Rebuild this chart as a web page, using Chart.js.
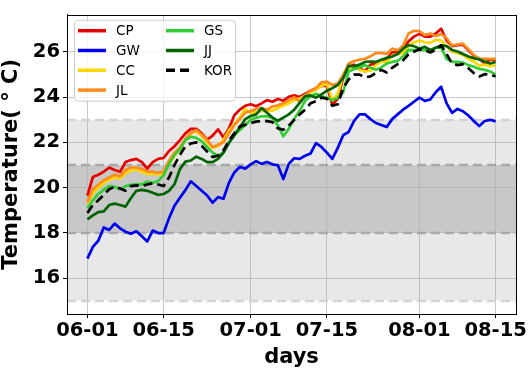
<!DOCTYPE html>
<html>
<head>
<meta charset="utf-8">
<script src="https://cdn.jsdelivr.net/npm/chart.js@4.4.1/dist/chart.umd.min.js"></script>
<style>
  html, body { margin: 0; padding: 0; background: #fff; }
  #wrap { width: 529px; height: 372px; }
</style>
</head>
<body>
<div id="wrap"><canvas id="chart" width="529" height="372"></canvas></div>
<script>
// x = day index from 06-01
const tickDays = [0, 14, 30, 44, 61, 75];
const tickLabels = ['06-01', '06-15', '07-01', '07-15', '08-01', '08-15'];
const yTicks = [16, 18, 20, 22, 24, 26];
const outerBand = [15, 23];
const innerBand = [18, 21];

const seriesNames = ['CP', 'GW', 'CC', 'JL', 'GS', 'JJ', 'KOR'];

const CP = [19.65, 20.47, 20.57, 20.70, 20.89, 20.78, 20.70, 21.13, 21.22, 21.27,
            21.13, 20.84, 21.13, 21.27, 21.31, 21.62, 21.83, 22.10, 22.40, 22.60,
            22.60, 22.40, 22.12, 22.30, 22.58, 22.22, 22.62, 23.20, 23.45, 23.62,
            23.69, 23.60, 23.73, 23.87, 23.80, 23.92, 23.84, 24.02, 24.08, 24.01,
            24.15, 24.29, 24.40, 24.50, 24.50, 23.66, 23.94, 24.85, 25.35, 25.44,
            25.28, 25.14, 25.44, 25.49, 25.63, 25.70, 25.98, 26.00, 26.12, 26.47,
            26.68, 26.80, 26.68, 26.68, 26.82, 27.03, 26.51, 26.26, 26.30, 26.33,
            26.08, 25.84, 25.70, 25.49, 25.67, 25.63];
const GW = [16.86, 17.38, 17.65, 18.24, 18.13, 18.41, 18.20, 18.05, 17.96, 18.07,
            17.85, 17.62, 18.10, 17.99, 17.99, 18.65, 19.20, 19.55, 19.89, 20.28,
            20.07, 19.86, 19.65, 19.33, 19.58, 19.51, 20.21, 20.67, 20.92, 20.84,
            21.03, 21.17, 21.05, 21.13, 21.03, 20.99, 20.38, 21.05, 21.30, 21.27,
            21.41, 21.51, 21.97, 21.80, 21.55, 21.27, 21.76, 22.32, 22.46, 22.95,
            23.24, 23.24, 23.03, 22.86, 22.77, 22.68, 23.03, 23.24, 23.45, 23.62,
            23.80, 23.98, 23.84, 23.90, 24.22, 24.46, 23.73, 23.31, 23.48, 23.38,
            23.19, 22.95, 22.72, 22.95, 23.00, 22.93];
const CC = [19.30, 19.75, 20.00, 20.20, 20.35, 20.45, 20.40, 20.65, 20.75, 20.80,
            20.70, 20.60, 20.62, 20.58, 20.62, 21.05, 21.40, 21.70, 22.10, 22.40,
            22.49, 22.29, 22.01, 21.76, 21.83, 22.11, 22.53, 22.81, 23.10, 23.48,
            23.31, 23.34, 23.38, 23.38, 23.41, 23.52, 23.62, 23.73, 23.87, 23.94,
            24.08, 24.22, 24.32, 24.50, 24.60, 23.87, 24.15, 24.92, 25.30, 25.35,
            25.21, 25.14, 25.17, 25.42, 25.56, 25.56, 25.84, 25.91, 25.95, 26.26,
            26.43, 26.51, 26.43, 26.40, 26.54, 26.51, 26.26, 26.01, 25.95, 25.87,
            25.70, 25.58, 25.39, 25.44, 25.37, 25.42];
const JL = [19.35, 19.93, 20.14, 20.33, 20.45, 20.57, 20.50, 20.78, 20.89, 20.89,
            20.82, 20.71, 20.71, 20.66, 20.71, 21.20, 21.55, 21.79, 22.15, 22.42,
            22.55, 22.35, 22.11, 21.79, 21.90, 22.01, 22.39, 22.77, 23.03, 23.31,
            23.38, 23.49, 23.52, 23.45, 23.59, 23.64, 23.73, 23.87, 24.00, 23.80,
            24.08, 24.29, 24.40, 24.66, 24.69, 24.54, 24.60, 24.99, 25.49, 25.60,
            25.66, 25.70, 25.81, 25.95, 25.95, 25.92, 26.15, 26.08, 26.28, 26.82,
            26.94, 26.92, 26.75, 26.82, 26.71, 26.80, 26.61, 26.29, 26.33, 26.37,
            26.12, 25.87, 25.70, 25.70, 25.70, 25.70];
const GS = [19.09, 19.44, 19.72, 19.90, 20.07, 20.04, 19.93, 20.07, 20.12, 20.14,
            20.14, 20.27, 20.21, 20.29, 20.55, 21.05, 21.45, 21.70, 22.10, 22.25,
            22.20, 22.05, 21.80, 21.55, 21.40, 21.55, 22.00, 22.32, 22.55, 22.76,
            23.00, 23.10, 23.15, 23.15, 23.10, 22.75, 22.27, 22.60, 23.05, 23.40,
            23.84, 24.04, 24.15, 24.04, 23.98, 23.87, 23.98, 24.22, 25.14, 25.25,
            25.33, 25.42, 25.30, 25.21, 25.32, 25.49, 25.56, 25.61, 25.80, 26.09,
            26.08, 26.09, 26.09, 26.01, 26.19, 26.19, 25.70, 25.56, 25.56, 25.53,
            25.42, 25.35, 25.25, 25.21, 25.14, 25.00];
const JJ = [18.60, 18.77, 18.92, 18.95, 19.23, 19.29, 19.23, 19.16, 19.54, 19.86,
            19.90, 19.86, 19.77, 19.68, 19.72, 19.86, 20.15, 20.82, 21.15, 21.20,
            21.37, 21.27, 21.13, 21.13, 21.27, 21.55, 21.97, 22.32, 22.67, 23.03,
            23.17, 23.24, 23.52, 23.31, 23.10, 22.96, 23.10, 23.24, 23.45, 23.75,
            24.04, 24.08, 23.98, 24.12, 24.29, 24.40, 24.54, 24.85, 25.39, 25.37,
            25.44, 25.56, 25.58, 25.56, 25.66, 25.74, 25.80, 25.91, 26.15, 26.30,
            26.26, 26.15, 26.23, 26.09, 26.19, 26.29, 26.26, 26.09, 26.02, 25.91,
            25.80, 25.73, 25.67, 25.58, 25.49, 25.56];
const KOR = [18.88, 19.23, 19.44, 19.68, 19.93, 20.04, 19.96, 19.86, 20.07, 20.10,
             20.07, 20.14, 20.19, 20.14, 20.07, 20.45, 21.00, 21.45, 21.83, 21.95,
             22.00, 21.85, 21.60, 21.35, 21.42, 21.65, 22.08, 22.40, 22.70, 22.78,
             22.86, 22.92, 22.95, 22.94, 22.90, 22.62, 22.56, 22.74, 23.00, 23.24,
             23.45, 23.73, 23.83, 23.98, 23.94, 23.62, 23.69, 24.40, 24.78, 25.00,
             25.00, 24.88, 24.92, 25.07, 25.21, 25.09, 25.30, 25.46, 25.63, 25.90,
             26.01, 26.12, 26.09, 25.98, 26.09, 26.30, 25.91, 25.49, 25.42, 25.46,
             25.28, 25.07, 24.92, 25.02, 25.00, 24.92];

const seriesValues = [CP, GW, CC, JL, GS, JJ, KOR];
const seriesColors = ['#e60000', '#0000f0', '#ffd700', '#ff8c1a', '#32cd32', '#006400', '#000000'];

const FONT = 'DejaVu Sans';

// grey bands, reference lines, frame and the two-column legend
const decorPlugin = {
  id: 'decor',
  beforeDraw(chart) {
    const { ctx, chartArea: a, scales: { y } } = chart;
    ctx.save();
    let t = y.getPixelForValue(outerBand[1]), b = y.getPixelForValue(outerBand[0]);
    ctx.fillStyle = '#e8e8e8';
    ctx.fillRect(a.left, t, a.width, b - t);
    t = y.getPixelForValue(innerBand[1]); b = y.getPixelForValue(innerBand[0]);
    ctx.fillStyle = '#c8c8c8';
    ctx.fillRect(a.left, t, a.width, b - t);
    ctx.restore();
  },
  beforeDatasetsDraw(chart) {
    const { ctx, chartArea: a, scales: { y } } = chart;
    ctx.save();
    ctx.lineWidth = 2.5;
    ctx.setLineDash([9, 5]);
    const lines = [[outerBand[0], '#d3d3d3'], [outerBand[1], '#d3d3d3'],
                   [innerBand[0], '#a9a9a9'], [innerBand[1], '#a9a9a9']];
    lines.forEach(([v, c]) => {
      const py = Math.round(y.getPixelForValue(v));
      ctx.strokeStyle = c;
      ctx.beginPath();
      ctx.moveTo(a.left, py);
      ctx.lineTo(a.right, py);
      ctx.stroke();
    });
    ctx.restore();
  },
  afterDatasetsDraw(chart) {
    const { ctx, chartArea: a } = chart;
    ctx.save();
    ctx.strokeStyle = '#000';
    ctx.lineWidth = 1;
    ctx.strokeRect(Math.round(a.left) + 0.5, Math.round(a.top) + 0.5,
                   Math.round(a.width), Math.round(a.height));
    ctx.restore();
  },
  afterDraw(chart) {
    const { ctx, chartArea: a } = chart;
    const ds = chart.data.datasets;
    const bx = a.left + 7, by = a.top + 5, bw = 161, bh = 81;
    ctx.save();
    ctx.beginPath();
    ctx.roundRect(bx + 0.5, by + 0.5, bw, bh, 4);
    ctx.fillStyle = 'rgba(255,255,255,0.8)';
    ctx.fill();
    ctx.strokeStyle = '#cccccc';
    ctx.lineWidth = 1;
    ctx.stroke();
    const cols = [[0, 1, 2, 3], [4, 5, 6]];
    const colX = [bx + 4, bx + 92];
    ctx.font = '13.5px "' + FONT + '"';
    ctx.textBaseline = 'middle';
    ctx.textAlign = 'left';
    cols.forEach((col, ci) => {
      col.forEach((idx, ri) => {
        const d = ds[idx];
        const ly = by + 11 + ri * 19.8;
        ctx.strokeStyle = d.borderColor;
        ctx.lineWidth = 3.5;
        ctx.setLineDash(d.borderDash || []);
        ctx.beginPath();
        ctx.moveTo(colX[ci], ly);
        ctx.lineTo(colX[ci] + 28, ly);
        ctx.stroke();
        ctx.setLineDash([]);
        ctx.fillStyle = '#000';
        ctx.fillText(d.label, colX[ci] + 38, ly + 1);
      });
    });
    ctx.restore();
  }
};

const datasets = seriesNames.map((name, i) => ({
  label: name,
  data: seriesValues[i].map((v, d) => ({ x: d, y: v })),
  borderColor: seriesColors[i],
  backgroundColor: seriesColors[i],
  borderWidth: 2.7,
  borderDash: name === 'KOR' ? [9, 5] : [],
  pointRadius: 0,
  tension: 0,
  fill: false,
  borderJoinStyle: 'round',
  order: seriesNames.length - i
}));

const chart = new Chart(document.getElementById('chart').getContext('2d'), {
  type: 'line',
  data: { datasets: datasets },
  options: {
    responsive: false,
    animation: false,
    devicePixelRatio: 1,
    layout: { padding: { top: 1, right: 13, left: 0, bottom: 0 } },
    plugins: {
      legend: { display: false },
      tooltip: { enabled: false }
    },
    scales: {
      x: {
        type: 'linear',
        min: -3.75,
        max: 78.75,
        afterBuildTicks: (axis) => { axis.ticks = tickDays.map(v => ({ value: v })); },
        afterFit: (axis) => { axis.height = 58; },
        ticks: {
          callback: (v) => tickLabels[tickDays.indexOf(v)],
          font: { family: FONT, size: 19.5, weight: 'bold' },
          color: '#000',
          maxRotation: 0,
          autoSkip: false,
          padding: 1
        },
        grid: { color: 'rgba(176,176,176,0.7)', lineWidth: 1, tickLength: 4, tickColor: '#000' },
        border: { display: true, color: '#000' },
        title: {
          display: true,
          text: 'days',
          font: { family: FONT, size: 21, weight: 'bold' },
          color: '#000',
          padding: { top: 0, bottom: 2 }
        }
      },
      y: {
        type: 'linear',
        min: 14.41,
        max: 27.65,
        afterBuildTicks: (axis) => { axis.ticks = yTicks.map(v => ({ value: v })); },
        afterFit: (axis) => { axis.width = 67; },
        ticks: {
          font: { family: FONT, size: 19.5, weight: 'bold' },
          color: '#000',
          padding: 3
        },
        grid: { color: 'rgba(176,176,176,0.7)', lineWidth: 1, tickLength: 4, tickColor: '#000' },
        border: { display: true, color: '#000' },
        title: {
          display: true,
          text: 'Temperature( ° C)',
          font: { family: FONT, size: 21, weight: 'bold' },
          color: '#000',
          padding: { top: -1, bottom: 0 }
        }
      }
    }
  },
  plugins: [decorPlugin]
});
</script>
</body>
</html>
